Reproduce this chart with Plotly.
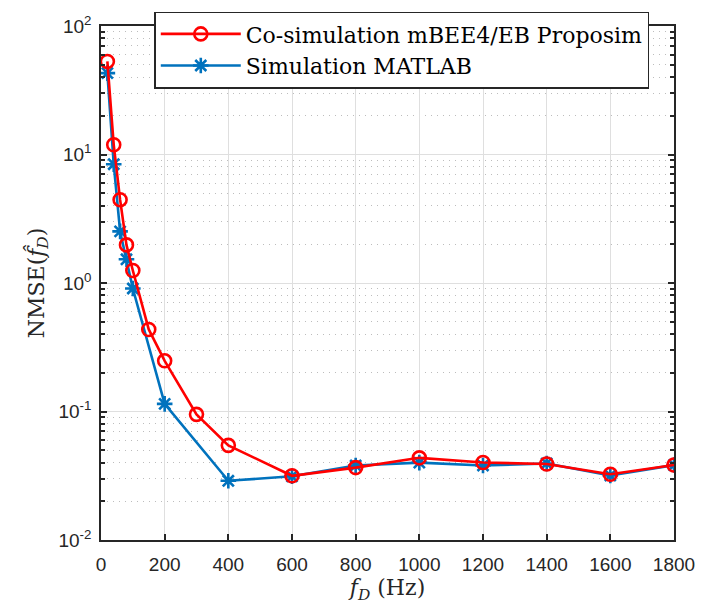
import plotly.graph_objects as go

# Data
cosim_x = [20, 40, 60, 80, 100, 150, 200, 300, 400, 600, 800, 1000, 1200, 1400, 1600, 1800]
cosim_y = [53, 11.9, 4.45, 1.98, 1.25, 0.435, 0.248, 0.095, 0.0545, 0.0316, 0.0366, 0.0436, 0.0401, 0.039, 0.0325, 0.0383]
matlab_x = [20, 40, 60, 80, 100, 200, 400, 600, 800, 1000, 1200, 1400, 1600, 1800]
matlab_y = [43, 8.4, 2.52, 1.53, 0.906, 0.1146, 0.0289, 0.0313, 0.038, 0.040, 0.038, 0.0394, 0.0318, 0.0383]
x_ticks = [0, 200, 400, 600, 800, 1000, 1200, 1400, 1600, 1800]
y_ticks = [0.01, 0.1, 1, 10, 100]
y_minor = [k * 10.0 ** e for e in range(-2, 2) for k in range(2, 10)]

RED = "#FF0000"
BLUE = "#0072BD"
AX = "#262626"
SERIF = "DejaVu Serif, Liberation Serif, serif"

fig = go.Figure()
fig.add_trace(go.Scatter(
    x=matlab_x, y=matlab_y, mode="lines+markers",
    name="Simulation MATLAB",
    line=dict(color=BLUE, width=2.6),
    marker=dict(symbol="asterisk-open", size=13, color=BLUE, line=dict(width=2.6, color=BLUE)),
))
fig.add_trace(go.Scatter(
    x=cosim_x, y=cosim_y, mode="lines+markers",
    name="Co-simulation mBEE4/EB Proposim",
    line=dict(color=RED, width=2.6),
    marker=dict(symbol="circle-open", size=13, color=RED, line=dict(width=2.6, color=RED)),
))

fig.update_layout(
    width=707, height=609,
    margin=dict(l=101, r=28, t=16, b=69),
    paper_bgcolor="white", plot_bgcolor="white",
    font=dict(family="Liberation Sans, Arial, sans-serif", size=19, color=AX),
    legend=dict(
        x=0.093, y=1.028, xanchor="left", yanchor="top",
        bgcolor="white", bordercolor=AX, borderwidth=1.5,
        font=dict(family=SERIF, size=22, color="black"),
        traceorder="reversed", tracegroupgap=0, itemwidth=80,
    ),
    showlegend=True,
)
fig.update_xaxes(
    range=[0, 1800], tickvals=x_ticks, ticktext=[str(v) for v in x_ticks],
    showline=True, linecolor=AX, linewidth=1.5, mirror="ticks",
    ticks="inside", ticklen=6, tickcolor=AX, tickwidth=1.5,
    ticklabelstandoff=6,
    showgrid=True, gridcolor="#dfdfdf", gridwidth=1.3,
    zeroline=False,
    title=dict(text="<i>f</i><sub><i>D</i></sub> (Hz)", standoff=6,
               font=dict(family=SERIF, size=22, color=AX)),
)
fig.update_yaxes(
    type="log", range=[-2, 2], tickvals=y_ticks,
    ticktext=["10<sup>-2</sup>", "10<sup>-1</sup>", "10<sup>0</sup>", "10<sup>1</sup>", "10<sup>2</sup>"],
    showline=True, linecolor=AX, linewidth=1.5, mirror="ticks",
    ticks="inside", ticklen=6, tickcolor=AX, tickwidth=1.5,
    ticklabelstandoff=4,
    showgrid=True, gridcolor="#dfdfdf", gridwidth=1.3,
    minor=dict(tickvals=y_minor, ticks="inside", ticklen=4, tickcolor=AX,
               showgrid=True, gridcolor="#bdbdbd", griddash="1px,5px", gridwidth=1.3),
    zeroline=False,
    title=dict(text="NMSE(<i>f̂</i><sub><i>D</i></sub>)", standoff=8,
               font=dict(family=SERIF, size=22, color=AX)),
)

fig.write_html("out.html")
